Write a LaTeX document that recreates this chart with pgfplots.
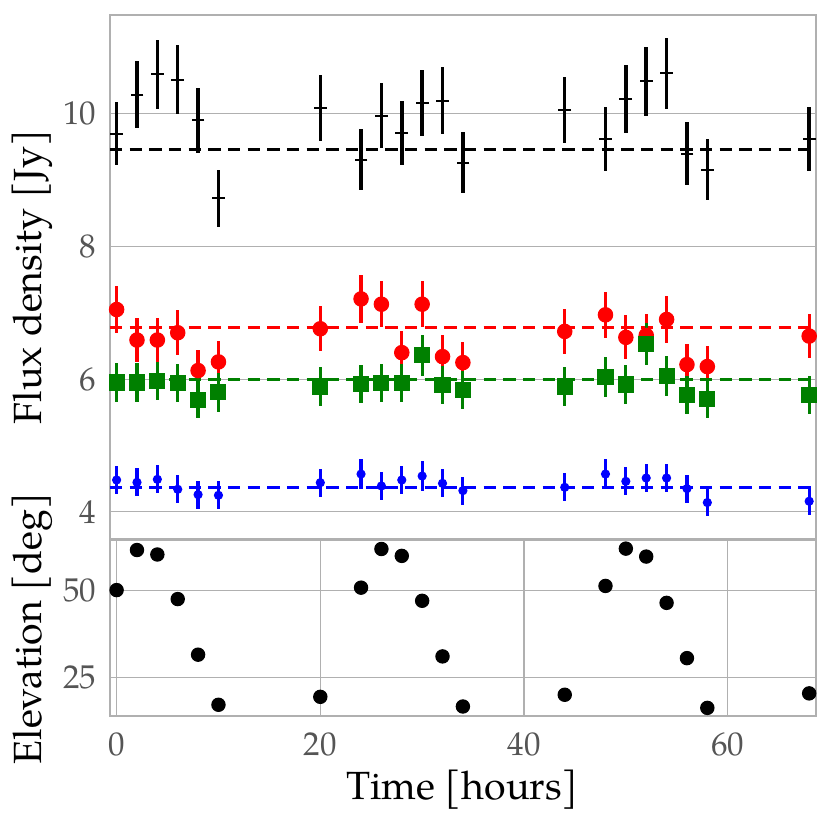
\documentclass[border=0pt]{standalone}
\usepackage{fontspec}
\setmainfont{TeX Gyre Pagella}
\usepackage{pgfplots}
\usepackage{pgfplotstable}
\pgfplotsset{compat=1.18}
\definecolor{gridc}{RGB}{176,176,176}
\definecolor{tickc}{RGB}{85,85,85}
\definecolor{mpgreen}{RGB}{0,128,0}

\pgfplotstableread{
t f e
0 9.70 0.475
2 10.29 0.51
4 10.60 0.52
6 10.51 0.52
8 9.90 0.495
10 8.73 0.43
20 10.09 0.50
24 9.31 0.46
26 9.97 0.49
28 9.71 0.48
30 10.16 0.50
32 10.20 0.51
34 9.26 0.46
44 10.06 0.50
48 9.62 0.48
50 10.22 0.51
52 10.49 0.52
54 10.61 0.53
56 9.40 0.47
58 9.16 0.455
68 9.62 0.48
}\blackdata

\pgfplotstableread{
t f e
0 7.05 0.35
2 6.59 0.33
4 6.59 0.33
6 6.70 0.34
8 6.13 0.31
10 6.26 0.31
20 6.76 0.34
24 7.21 0.36
26 7.13 0.35
28 6.40 0.32
30 7.13 0.35
32 6.34 0.32
34 6.25 0.31
44 6.72 0.34
48 6.97 0.35
50 6.63 0.33
52 6.66 0.33
54 6.90 0.35
56 6.22 0.31
58 6.19 0.31
68 6.65 0.33
}\reddata

\pgfplotstableread{
t f e
0 5.95 0.29
2 5.95 0.29
4 5.97 0.29
6 5.94 0.29
8 5.69 0.28
10 5.80 0.29
20 5.89 0.29
24 5.93 0.29
26 5.94 0.29
28 5.94 0.29
30 6.36 0.31
32 5.91 0.29
34 5.84 0.29
44 5.89 0.29
48 6.03 0.30
50 5.92 0.29
52 6.53 0.32
54 6.05 0.30
56 5.76 0.29
58 5.70 0.28
68 5.76 0.29
}\greendata

\pgfplotstableread{
t f e
0 4.48 0.21
2 4.445 0.21
4 4.49 0.21
6 4.34 0.21
8 4.26 0.21
10 4.25 0.21
20 4.44 0.21
24 4.57 0.22
26 4.39 0.21
28 4.48 0.21
30 4.54 0.22
32 4.43 0.21
34 4.32 0.21
44 4.37 0.21
48 4.57 0.22
50 4.46 0.21
52 4.51 0.21
54 4.51 0.21
56 4.35 0.21
58 4.14 0.20
68 4.16 0.20
}\bluedata

\pgfplotstableread{
t el
0 50.2
2 61.8
4 60.5
6 47.6
8 31.5
10 17.0
20 19.3
24 50.9
26 62.1
28 60.1
30 47.1
32 31.0
34 16.5
44 19.9
48 51.4
50 62.2
52 59.9
54 46.5
56 30.5
58 16.1
68 20.3
}\elevdata

\pgfplotsset{
 myaxis/.style={
  scale only axis, width=254.8pt,
  xmin=-0.65, xmax=68.65,
  axis line style={gridc, line width=0.6pt},
  major grid style={gridc, line width=0.45pt},
  tick style={draw=none},
  /pgf/number format/assume math mode=true,
  ticklabel style={font=\fontsize{11.9}{14}\selectfont, text=tickc},
  yticklabel style={anchor=east, inner sep=0pt, xshift=-4.7pt},
  xticklabel style={anchor=north, inner sep=0pt, yshift=-5.7pt},
  label style={font=\fontsize{14.2}{17}\selectfont},
  ylabel style={at={(axis description cs:-0.1106,0.5)}, anchor=center},
 },
 eb/.style 2 args={error bars/.cd, y dir=both, y explicit, error mark=none,
   error bar style={line width=#2, #1}},
 meanline/.style={#1, line width=1.1pt, dash pattern=on 4.5pt off 2.6pt, forget plot},
}

\begin{document}
\begin{tikzpicture}
\useasboundingbox (-39.71pt,-103.6pt) rectangle (260.29pt,194.6pt);
\begin{axis}[myaxis, at={(0,0)}, anchor=south west, height=189.2pt,
  ymin=3.59, ymax=11.49, ytick={4,6,8,10}, xtick=\empty,
  ymajorgrids=true,
  ylabel={Flux density [Jy]}]
\addplot[black, only marks, mark=-, mark size=2.3pt, mark options={line width=0.75pt}, eb={black}{1.25pt}]
  table[x=t, y=f, y error=e] {\blackdata};
\addplot[meanline=black] coordinates {(-0.65,9.46) (68.65,9.46)};
\addplot[red, only marks, mark=*, mark size=2.6pt, eb={red}{1.15pt}]
  table[x=t, y=f, y error=e] {\reddata};
\addplot[meanline=red] coordinates {(-0.65,6.78) (68.65,6.78)};
\addplot[mpgreen, only marks, mark=square*, mark size=2.7pt, eb={mpgreen}{1.15pt}]
  table[x=t, y=f, y error=e] {\greendata};
\addplot[meanline=mpgreen] coordinates {(-0.65,6.00) (68.65,6.00)};
\addplot[blue, only marks, mark=*, mark size=1.45pt, eb={blue}{1.15pt}]
  table[x=t, y=f, y error=e] {\bluedata};
\addplot[meanline=blue] coordinates {(-0.65,4.37) (68.65,4.37)};
\end{axis}
\begin{axis}[myaxis, at={(0,-0.54pt)}, anchor=north west, height=63.4pt,
  ymin=13.7, ymax=64.54, ytick={25,50}, xtick={0,20,40,60},
  grid=major,
  xlabel={Time [hours]},
  xlabel style={at={(axis description cs:0.5,0)}, anchor=north, inner sep=0pt, yshift=-19.1pt},
  ylabel={Elevation [deg]}]
\addplot[black, only marks, mark=*, mark size=2.4pt] table[x=t, y=el] {\elevdata};
\end{axis}
\end{tikzpicture}
\end{document}
